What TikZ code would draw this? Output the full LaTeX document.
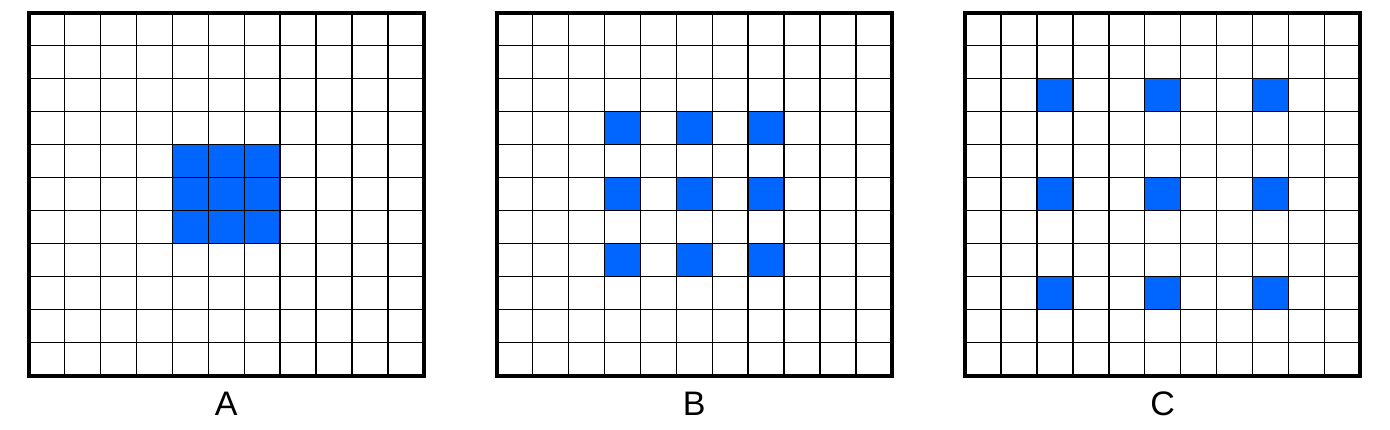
\documentclass[tikz,border=0pt]{standalone}
\usepackage{fontspec}
\setmainfont{Liberation Sans}
\definecolor{cellblue}{RGB}{0,102,255}
\tikzset{
  gridline/.style={line width=1.4pt, black},
  border/.style={line width=4pt, black},
  panellabel/.style={font=\fontsize{34}{40}\selectfont, inner sep=0pt}
}
\begin{document}
\begin{tikzpicture}[x=1pt,y=-1pt]
\useasboundingbox (0,0) rectangle (1390,429);
\def\cw{35.95}
\def\ch{33}
\def\gtop{12.5}
\foreach \ox/\lab/\cells in {28.5/A/{4,5,6}, 496.5/B/{3,5,7}, 965/C/{2,5,8}} {
  \foreach \i in \cells {
    \foreach \j in \cells {
      \fill[cellblue] (\ox+\i*\cw, \gtop+\j*\ch) rectangle ++(\cw,\ch);
    }
  }
  \foreach \k in {1,...,10} {
    \draw[gridline] (\ox+\k*\cw, \gtop) -- (\ox+\k*\cw, \gtop+11*\ch);
    \draw[gridline] (\ox, \gtop+\k*\ch) -- (\ox+11*\cw, \gtop+\k*\ch);
  }
  \draw[border] (\ox,\gtop) rectangle ++(11*\cw, 11*\ch);
  \node[panellabel] (label\lab) at (\ox+5.5*\cw, 404) {\lab};
}
\end{tikzpicture}
\end{document}
